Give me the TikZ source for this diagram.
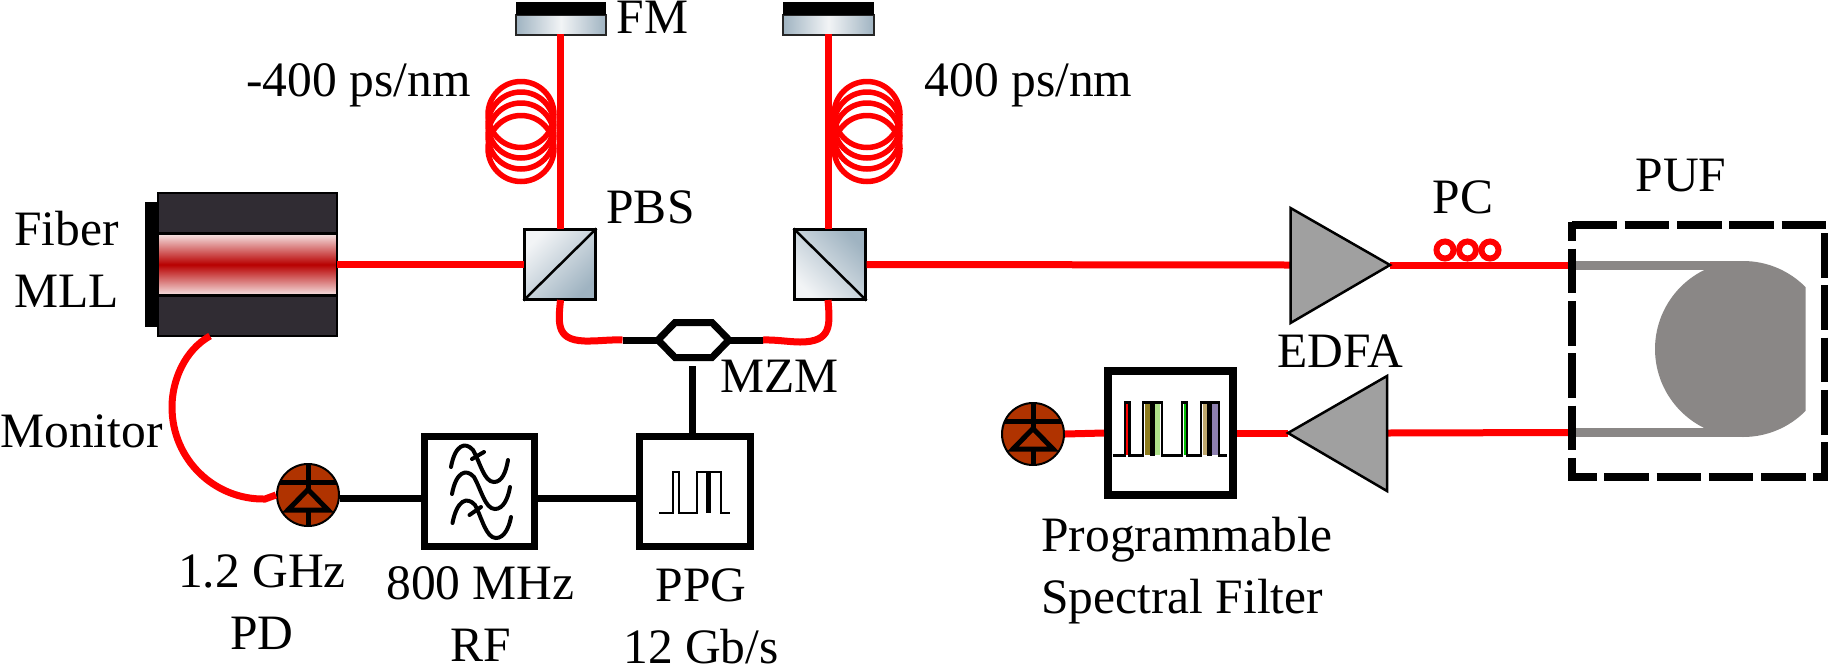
\documentclass[tikz,border=0pt]{standalone}
\usepackage{fontspec}
\setmainfont{Liberation Serif}
\definecolor{fibred}{HTML}{FF0000}
\definecolor{housing}{HTML}{302C33}
\definecolor{laserpale}{HTML}{F6E6E6}
\definecolor{laserred}{HTML}{B80000}
\definecolor{steel}{HTML}{9FB3C1}
\definecolor{steelpale}{HTML}{F2F4F6}
\definecolor{ampgrey}{HTML}{A0A0A0}
\definecolor{pufgrey}{HTML}{8A8786}
\definecolor{pdbrown}{HTML}{B03300}
\definecolor{specolive}{HTML}{8E7C1E}
\definecolor{specgreen}{HTML}{AEE08A}
\definecolor{spectan}{HTML}{BFA86E}
\definecolor{specpurple}{HTML}{8D7FB0}
\definecolor{specbright}{HTML}{00C000}
\tikzset{
  lbl/.style={font=\fontsize{49.5}{62}\selectfont,inner sep=0pt,outer sep=0pt,anchor=base,align=center,text=black},
  fibre/.style={draw=fibred,line width=7pt},
  coilloop/.style={draw=fibred,line width=5.5pt},
  wire/.style={draw=black,line width=7pt},
  thickbox/.style={draw=black,line width=7pt,fill=white,inner sep=0pt,outer sep=3.5pt},
  cube/.style={draw=black,line width=2.5pt,inner sep=0pt,minimum width=71pt,minimum height=70pt,outer sep=1pt},
  mirror/.style={draw=black!85,line width=2pt,inner sep=0pt,left color=steel,right color=steel,middle color=steelpale,minimum height=20pt,outer sep=0pt},
  amp/.style={draw=black,line width=2.5pt,fill=ampgrey,line join=miter},
  pdbody/.style={circle,draw=black,line width=2pt,fill=pdbrown,minimum size=62pt,inner sep=0pt,outer sep=1pt},
  pdmark/.style={draw=black,line width=5pt},
  pulse/.style={draw=black,line width=2.8pt},
  sinewave/.style={draw=black,line width=4pt,line cap=round},
  pufdash/.style={draw=black,line width=7.7pt,dash pattern=on 44.6pt off 7.7pt},
  pdglyph/.pic={
    \begin{scope}
      \clip (0,0) circle (31pt);
      \draw[pdmark] (-32,-13) -- (32,-13);
      \draw[pdmark] (0,-32) -- (0,-6);
      \draw[pdmark] (0,15) -- (0,32);
    \end{scope}
    \draw[pdmark,line join=miter] (0,-5.5) -- (20,15) -- (-20,15) -- cycle;
  }
}
\begin{document}
\begin{tikzpicture}[x=1pt,y=-1pt]
\useasboundingbox (0,0) rectangle (1828,665);

% ---- laser
\fill[black] (145,202) rectangle (158,327);
\node[draw=black,line width=2pt,fill=housing,minimum width=179pt,minimum height=143pt,inner sep=0pt,outer sep=0pt] (mll) at (247.5,264.5) {};
\node[draw=black,line width=2.5pt,top color=laserpale,bottom color=laserpale,middle color=laserred,minimum width=179pt,minimum height=62pt,inner sep=0pt,outer sep=0pt] (cavity) at (247.5,264.5) {};

% ---- coils
\foreach \yy in {114.5,125,136,148.5} {
  \draw[coilloop] (521,\yy) circle (33pt);
  \draw[coilloop] (867,\yy) circle (33pt);
}

% ---- beam splitters and mirrors
\node[cube,left color=steelpale,right color=steel,shading angle=45] (pbsa) at (560,264.5) {};
\draw[draw=black,line width=2.5pt] (pbsa.south west) -- (pbsa.north east);
\node[cube,left color=steel,right color=steelpale,shading angle=-45] (pbsb) at (830,264.5) {};
\draw[draw=black,line width=2.5pt] (pbsb.north west) -- (pbsb.south east);

\node[mirror,minimum width=90pt] (fma) at (561,24.5) {};
\fill[black] (516,2) rectangle (606,15);
\node[mirror,minimum width=91pt] (fmb) at (828.5,24.5) {};
\fill[black] (783,2) rectangle (874,15);

\coordinate (fmafoot) at (560.5,34);
\coordinate (pbsatop) at (560.5,229);
\coordinate (pbsabot) at (560.5,300);
\coordinate (fmbfoot) at (828,34);
\coordinate (pbsbtop) at (828,229);
\coordinate (pbsbbot) at (828,300);

% ---- MZM
\coordinate (mzmwest) at (658,340);
\coordinate (mzmeast) at (729,340);
\coordinate (mzmsouth) at (692,366);
\coordinate (stubwest) at (622.5,340);
\coordinate (stubeast) at (763,340);
\draw[wire,line join=miter] (mzmwest) -- (675,322.5) -- (712,322.5) -- (mzmeast) -- (712,357.5) -- (675,357.5) -- cycle;

% ---- electronics boxes
\node[thickbox,minimum width=110pt,minimum height=110pt] (rfbox) at (479.5,491.5) {};
\node[thickbox,minimum width=111pt,minimum height=110pt] (ppg) at (695,491.5) {};
\node[draw=black,line width=8pt,fill=white,inner sep=0pt,outer sep=4pt,minimum width=125pt,minimum height=124pt] (filt) at (1170.5,433) {};

% RF glyph
\draw[sinewave] (451,467) .. controls (455,445) and (465,441) .. (473,450) .. controls (480,462) and (484,482) .. (494,482) .. controls (502,482) and (506,472) .. (508,460);
\draw[sinewave] (452,494) .. controls (456,472) and (466,468) .. (474,477) .. controls (481,489) and (485,509) .. (495,509) .. controls (503,509) and (508,499) .. (510,487);
\draw[sinewave] (452.5,523) .. controls (457,500) and (467,496) .. (475,505) .. controls (482,518) and (486,538) .. (496,538) .. controls (504,538) and (509,528) .. (511,517);
\draw[sinewave] (472,459) -- (484,452);
\draw[sinewave] (469.5,515) -- (481,507);

% PPG glyph
\draw[pulse,line join=miter] (659,513) -- (673,513) -- (673,472) -- (679,472) -- (679,513) -- (697,513) -- (697,472) -- (721,472) -- (721,513) -- (730,513);
\draw[draw=black,line width=5pt] (708,472) -- (708,513);

% filter glyph
\fill[fibred] (1126,404) rectangle (1128.5,455);
\fill[specolive] (1145,404) rectangle (1150,455);
\fill[specgreen] (1154,404) rectangle (1160,455);
\fill[specbright] (1183.5,404) rectangle (1185.5,455);
\fill[spectan] (1203,404) rectangle (1207,455);
\fill[specpurple] (1212,404) rectangle (1218,455);
\draw[pulse,line join=miter] (1113,455.5) -- (1125,455.5) -- (1125,402.5) -- (1129.5,402.5) -- (1129.5,455.5) -- (1143,455.5) -- (1143,402.5) -- (1162,402.5) -- (1162,455.5) -- (1182,455.5) -- (1182,402.5) -- (1187,402.5) -- (1187,455.5) -- (1201,455.5) -- (1201,402.5) -- (1219,402.5) -- (1219,455.5) -- (1227,455.5);
\draw[draw=black,line width=5pt] (1152,402.5) -- (1152,455.5);
\draw[draw=black,line width=5pt] (1209,402.5) -- (1209,455.5);

% ---- photodiodes
\node[pdbody] (pda) at (308,495) {};
\pic at (308,495) {pdglyph};
\node[pdbody] (pdb) at (1033,434) {};
\pic at (1033,434) {pdglyph};

% ---- PUF
\begin{scope}
  \clip (1576,250) rectangle (1805.5,450);
  \fill[pufgrey] (1743,349) circle (88pt);
\end{scope}
\fill[pufgrey] (1576,261) rectangle (1743,270);
\fill[pufgrey] (1576,428) rectangle (1743,437);
\coordinate (pufin) at (1572,265);
\coordinate (pufout) at (1572,432.5);

% ---- amplifiers
\coordinate (ampatip) at (1390,265);
\coordinate (ampaback) at (1290.5,265);
\coordinate (ampbtip) at (1288,433);
\coordinate (ampbback) at (1387,433);

% ---- fibre connectors
\draw[fibre] (mll.east) -- (pbsa.west);
\draw[fibre] (pbsb.east) -- (ampaback);
\draw[fibre] (ampatip) -- (pufin);
\draw[fibre] (pufout) -- (ampbback);
\draw[fibre] (ampbtip) -- (filt.east);
\draw[fibre] (filt.west) -- (pdb.east);
\draw[fibre] (fmafoot) -- (pbsatop);
\draw[fibre] (fmbfoot) -- (pbsbtop);
\draw[fibre] (pbsabot) .. controls (558,325) and (556,342) .. (590,341) .. controls (600,341) and (610,339.5) .. (stubwest);
\draw[fibre] (pbsbbot) .. controls (830,325) and (832,342) .. (800,342) .. controls (790,342) and (775,339.5) .. (stubeast);
\draw[fibre] (210,336) .. controls (185,350) and (172,380) .. (172,407) .. controls (172,460) and (215,500) .. (265,499) -- (pda.west);

% ---- electrical connectors
\draw[wire] (stubwest) -- (mzmwest);
\draw[wire] (mzmeast) -- (stubeast);
\draw[wire] (mzmsouth) -- (692,433);
\draw[wire] (pda.east |- 0,498) -- (rfbox.west |- 0,498);
\draw[wire] (rfbox.east |- 0,498) -- (ppg.west |- 0,498);

% amplifier bodies on top of the fibre
\draw[amp] (ampaback |- 0,208) -- (ampatip) -- (ampaback |- 0,323) -- cycle;
\draw[amp] (ampbback |- 0,376) -- (ampbtip) -- (ampbback |- 0,491) -- cycle;

% polarisation controller
\foreach \xx/\nm in {1445/pca,1467.5/pcb,1490/pcc}
  \node[circle,draw=fibred,line width=6pt,minimum size=17pt,inner sep=0pt] (\nm) at (\xx,250) {};

% ---- PUF dashed frame
\draw[pufdash,dash phase=25.6pt] (1572,222) -- (1572,481);
\draw[pufdash] (1572.4,225) -- (1828,225);
\draw[pufdash] (1824.5,233) -- (1824.5,481);
\draw[pufdash,dash phase=17.1pt] (1569,477) -- (1828,477);

% ---- labels (a two-line node is placed by the baseline of its last line)
\node[lbl,text height=32pt] (tfm) at (652.5,33) {FM};
\node[lbl] (tneg) at (358.5,96) {-400 ps/nm};
\node[lbl] (tpos) at (1028.5,96) {400 ps/nm};
\node[lbl] (tpbs) at (650.5,223) {PBS};
\node[lbl] (tfiber) at (66.5,307) {Fiber\\MLL};
\node[lbl] (tmon) at (81.5,447) {Monitor};
\node[lbl] (tpd) at (262,649) {1.2 GHz\\PD};
\node[lbl,text depth=0pt] (trf) at (480.5,661) {800 MHz\\RF};
\node[lbl,text depth=0pt] (tppg) at (701,663) {PPG\\12 Gb/s};
\node[lbl] (tmzm) at (779.5,392) {MZM};
\node[lbl] (tpc) at (1463,213) {PC};
\node[lbl] (tpuf) at (1681,191) {PUF};
\node[lbl] (tedfa) at (1340,367) {EDFA};
\node[lbl,align=left] (tpsf) at (1187,613) {Programmable\\Spectral Filter};
\end{tikzpicture}
\end{document}
